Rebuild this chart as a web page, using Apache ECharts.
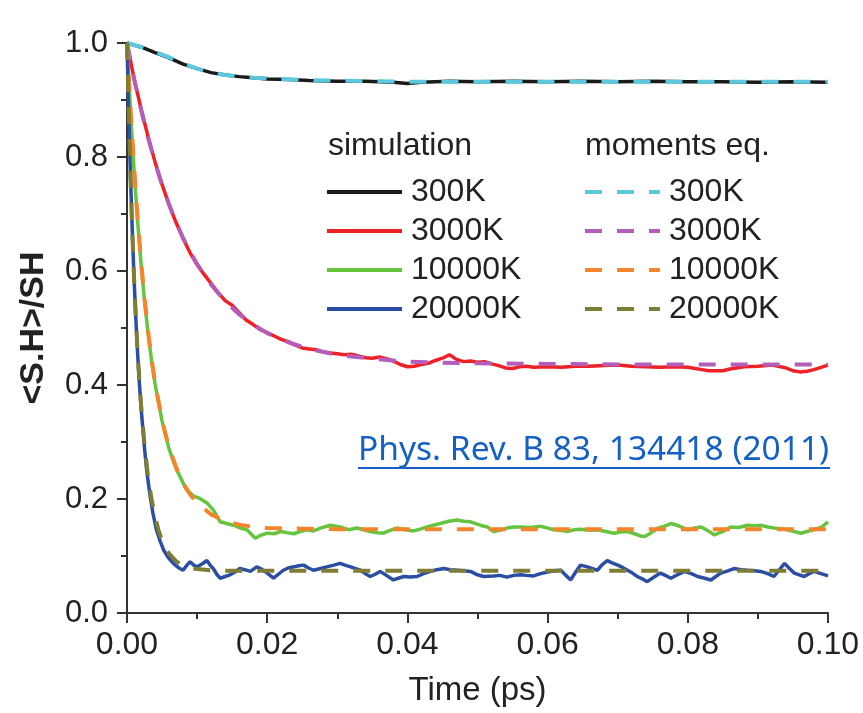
<!DOCTYPE html>
<html><head><meta charset="utf-8">
<script src="https://cdn.jsdelivr.net/npm/echarts@6/dist/echarts.min.js"></script>
<style>html,body{margin:0;padding:0;background:#fff}#c{width:863px;height:713px}</style>
</head><body><div id="c"></div>
<script>
// ---- axis ticks ----
const xTicks = [0, 0.02, 0.04, 0.06, 0.08, 0.10];
const yTicks = [0, 0.2, 0.4, 0.6, 0.8, 1.0];

// ---- simulation 300K ----
const sim300T = [0,0.002,0.004,0.006,0.008,0.01,0.012,0.014,0.016,0.018,0.02,0.023,0.026,0.03,0.034,0.038,0.04,0.042,0.046,0.05,0.055,0.06,0.065,0.07,0.075,0.08,0.085,0.09,0.095,0.1];
const sim300V = [1.0,0.993,0.983,0.974,0.963,0.955,0.948,0.944,0.941,0.939,0.937,0.936,0.934,0.933,0.933,0.931,0.929,0.931,0.933,0.932,0.933,0.932,0.933,0.932,0.933,0.932,0.932,0.931,0.932,0.931];

// ---- simulation 3000K ----
const sim3000T = [0,0.001,0.002,0.003,0.004,0.005,0.006,0.007,0.008,0.009,0.010,0.011,0.012,0.013,0.014,0.015,0.016,0.017,0.018,0.019,0.020,0.021,0.022,0.023,0.024,0.025,0.026,0.027,0.028,0.029,0.030,0.031,0.032,0.033,0.034,0.035,0.036,0.037,0.038,0.039,0.040,0.041,0.042,0.043,0.044,0.045,0.046,0.047,0.048,0.049,0.050,0.051,0.052,0.053,0.054,0.055,0.056,0.057,0.058,0.060,0.062,0.064,0.066,0.068,0.070,0.072,0.074,0.076,0.078,0.080,0.082,0.083,0.085,0.086,0.088,0.090,0.092,0.094,0.095,0.096,0.097,0.098,0.099,0.100];
const sim3000V = [1.0,0.938,0.885,0.836,0.791,0.752,0.716,0.685,0.657,0.632,0.611,0.594,0.578,0.562,0.548,0.540,0.527,0.514,0.506,0.497,0.492,0.486,0.480,0.476,0.470,0.465,0.463,0.462,0.458,0.456,0.455,0.453,0.454,0.451,0.448,0.447,0.449,0.446,0.442,0.436,0.432,0.433,0.436,0.438,0.443,0.447,0.453,0.445,0.441,0.442,0.440,0.441,0.437,0.434,0.430,0.429,0.432,0.433,0.431,0.432,0.431,0.433,0.433,0.434,0.435,0.433,0.432,0.431,0.432,0.431,0.427,0.425,0.425,0.428,0.432,0.433,0.435,0.430,0.425,0.423,0.424,0.427,0.431,0.435];

// ---- simulation 10000K ----
const sim10000T = [0,0.0005,0.001,0.0015,0.002,0.0025,0.003,0.0035,0.004,0.005,0.006,0.007,0.0085,0.0095,0.0104,0.0115,0.0123,0.0133,0.0142,0.0152,0.0162,0.0171,0.0183,0.019,0.020,0.021,0.0219,0.0228,0.0238,0.0247,0.0257,0.0266,0.0276,0.029,0.0304,0.0316,0.0328,0.0338,0.0347,0.0356,0.0366,0.0375,0.0385,0.0397,0.0409,0.0418,0.0428,0.0437,0.0447,0.0459,0.0471,0.048,0.049,0.0504,0.0514,0.0523,0.0532,0.0542,0.0552,0.0561,0.0575,0.059,0.06,0.0609,0.0618,0.0628,0.0638,0.0647,0.066,0.0671,0.0683,0.0695,0.0704,0.0714,0.0724,0.0733,0.0738,0.0747,0.0757,0.0766,0.0776,0.0787,0.08,0.081,0.0819,0.0828,0.0838,0.085,0.0861,0.0873,0.0885,0.0895,0.0904,0.0914,0.0923,0.0932,0.0942,0.0952,0.0961,0.097,0.098,0.099,0.1];
const sim10000V = [1.0,0.880,0.778,0.690,0.613,0.548,0.492,0.443,0.402,0.337,0.288,0.253,0.216,0.205,0.201,0.192,0.181,0.160,0.157,0.154,0.149,0.146,0.131,0.136,0.140,0.139,0.143,0.141,0.139,0.143,0.146,0.144,0.149,0.154,0.151,0.146,0.149,0.146,0.143,0.141,0.140,0.145,0.149,0.146,0.144,0.147,0.151,0.154,0.157,0.161,0.163,0.161,0.160,0.154,0.151,0.143,0.145,0.149,0.151,0.151,0.150,0.152,0.149,0.146,0.145,0.143,0.146,0.147,0.145,0.146,0.143,0.140,0.142,0.143,0.139,0.135,0.134,0.140,0.149,0.152,0.157,0.153,0.146,0.149,0.151,0.145,0.137,0.143,0.151,0.150,0.154,0.153,0.154,0.151,0.149,0.148,0.146,0.143,0.140,0.143,0.146,0.150,0.160];

// ---- simulation 20000K ----
const sim20000T = [0,0.00025,0.0005,0.00075,0.001,0.00125,0.0015,0.00175,0.002,0.0025,0.0028,0.0033,0.0037,0.0042,0.0047,0.0052,0.0059,0.0066,0.0073,0.008,0.0085,0.009,0.0095,0.01,0.0107,0.0114,0.0118,0.0123,0.0128,0.0133,0.014,0.0147,0.0154,0.0161,0.0168,0.0176,0.0185,0.0192,0.02,0.0209,0.0216,0.0223,0.023,0.0238,0.0245,0.0252,0.0259,0.0266,0.0276,0.0285,0.0295,0.0304,0.0311,0.0319,0.0326,0.0333,0.034,0.0347,0.0354,0.0361,0.037,0.038,0.0387,0.0395,0.0404,0.0414,0.0423,0.0433,0.0442,0.0452,0.0461,0.0471,0.048,0.049,0.05,0.0509,0.0523,0.0532,0.0542,0.0552,0.0561,0.057,0.058,0.059,0.06,0.061,0.0619,0.0626,0.0633,0.064,0.0647,0.0657,0.0664,0.0671,0.0678,0.0685,0.0692,0.07,0.0707,0.0714,0.0721,0.0728,0.0735,0.0742,0.0752,0.0761,0.0768,0.0776,0.0785,0.0795,0.0805,0.0814,0.0824,0.0833,0.084,0.0847,0.0857,0.0866,0.0876,0.0885,0.0895,0.0904,0.0914,0.0923,0.093,0.0938,0.0945,0.0952,0.0959,0.0966,0.0973,0.098,0.099,0.1];
const sim20000V = [1.0,0.873,0.765,0.671,0.589,0.519,0.458,0.406,0.361,0.289,0.251,0.205,0.175,0.146,0.127,0.111,0.097,0.087,0.080,0.075,0.083,0.090,0.084,0.081,0.086,0.092,0.085,0.078,0.068,0.061,0.064,0.067,0.072,0.078,0.076,0.073,0.081,0.077,0.070,0.061,0.068,0.075,0.079,0.081,0.083,0.084,0.079,0.075,0.078,0.081,0.084,0.087,0.084,0.081,0.078,0.075,0.069,0.064,0.068,0.073,0.066,0.058,0.061,0.064,0.063,0.064,0.069,0.073,0.076,0.078,0.076,0.075,0.074,0.073,0.067,0.064,0.065,0.066,0.063,0.066,0.067,0.066,0.065,0.069,0.072,0.074,0.075,0.066,0.058,0.072,0.084,0.081,0.078,0.075,0.085,0.092,0.088,0.084,0.080,0.075,0.070,0.064,0.060,0.055,0.063,0.070,0.066,0.061,0.067,0.073,0.069,0.064,0.061,0.058,0.064,0.070,0.074,0.078,0.076,0.075,0.074,0.073,0.069,0.064,0.075,0.087,0.078,0.070,0.067,0.064,0.069,0.073,0.069,0.065];

// ---- moments eq. ----
const mom300T = [0,0.002,0.004,0.006,0.008,0.01,0.012,0.014,0.016,0.018,0.02,0.025,0.03,0.035,0.04,0.05,0.06,0.07,0.08,0.09,0.1];
const mom300V = [1.0,0.993,0.984,0.975,0.964,0.955,0.948,0.944,0.941,0.939,0.938,0.935,0.934,0.933,0.932,0.932,0.932,0.932,0.932,0.932,0.932];
const mom3000T = [0,0.001,0.002,0.003,0.004,0.005,0.006,0.007,0.008,0.009,0.01,0.012,0.014,0.016,0.018,0.02,0.023,0.026,0.03,0.035,0.04,0.045,0.05,0.06,0.07,0.08,0.09,0.1];
const mom3000V = [1.0,0.938,0.883,0.834,0.790,0.751,0.717,0.686,0.658,0.634,0.612,0.576,0.547,0.524,0.506,0.491,0.475,0.463,0.453,0.446,0.441,0.439,0.438,0.437,0.436,0.436,0.436,0.436];
const mom10000T = [0,0.0005,0.001,0.0015,0.002,0.0025,0.003,0.0035,0.004,0.005,0.006,0.007,0.008,0.009,0.01,0.012,0.014,0.016,0.018,0.02,0.025,0.03,0.04,0.05,0.06,0.07,0.08,0.09,0.1];
const mom10000V = [1.0,0.885,0.785,0.695,0.618,0.552,0.495,0.446,0.404,0.338,0.290,0.256,0.228,0.208,0.193,0.173,0.161,0.155,0.151,0.149,0.148,0.147,0.147,0.147,0.147,0.147,0.147,0.147,0.147];
const mom20000T = [0,0.00025,0.0005,0.00075,0.001,0.00125,0.0015,0.00175,0.002,0.0025,0.003,0.0035,0.004,0.0045,0.005,0.006,0.007,0.008,0.009,0.01,0.012,0.015,0.02,0.03,0.04,0.05,0.06,0.07,0.08,0.09,0.1];
const mom20000V = [1.0,0.873,0.764,0.670,0.590,0.521,0.462,0.411,0.367,0.295,0.240,0.200,0.169,0.145,0.127,0.104,0.091,0.083,0.079,0.077,0.075,0.074,0.074,0.074,0.074,0.074,0.074,0.074,0.074,0.074,0.074];

const simLabels = ['300K','3000K','10000K','20000K'];
const simColors = ['#1a1a1a','#ee2127','#66c43f','#2b4ea3'];
const momColors = ['#5cc8de','#b45dbb','#f5842b','#7e7d33'];
const citation = 'Phys. Rev. B 83, 134418 (2011)';

const zip = (T, V) => T.map((t, i) => [t, V[i]]);
const simData = [zip(sim300T, sim300V), zip(sim3000T, sim3000V), zip(sim10000T, sim10000V), zip(sim20000T, sim20000V)];
const momData = [zip(mom300T, mom300V), zip(mom3000T, mom3000V), zip(mom10000T, mom10000V), zip(mom20000T, mom20000V)];

const FONT = '"Liberation Sans", Arial, Helvetica, sans-serif';
const series = [];
simLabels.forEach((lab, i) => {
  series.push({ name: 'sim ' + lab, type: 'line', data: simData[i], symbol: 'none', showSymbol: false,
    lineStyle: { color: simColors[i], width: 3.5 }, itemStyle: { color: simColors[i] }, z: 2 });
});
simLabels.forEach((lab, i) => {
  series.push({ name: 'mom ' + lab, type: 'line', data: momData[i], symbol: 'none', showSymbol: false,
    lineStyle: { color: momColors[i], width: 4, type: [17, 15] }, itemStyle: { color: momColors[i] }, z: 3 });
});

const legendCommon = {
  orient: 'vertical', top: 176, padding: 0, itemWidth: 75, itemHeight: 14, itemGap: 7,
  selectedMode: false,
  itemStyle: { opacity: 0 },
  lineStyle: { width: 4 },
  formatter: n => n.split(' ')[1],
  textStyle: { fontFamily: FONT, fontSize: 32, lineHeight: 32, color: '#222', padding: [0, 0, 0, 4] }
};

const chart = echarts.init(document.getElementById('c'), null, { renderer: 'canvas' });
chart.setOption({
  animation: false,
  backgroundColor: '#fff',
  grid: { left: 127, right: 35, top: 43, bottom: 100, containLabel: false },
  xAxis: {
    type: 'value', min: xTicks[0], max: xTicks[xTicks.length - 1], interval: 0.02,
    name: 'Time (ps)', nameLocation: 'middle', nameGap: 61,
    nameTextStyle: { fontFamily: FONT, fontSize: 33, color: '#222' },
    axisLine: { show: true, lineStyle: { color: '#333', width: 2 } },
    axisTick: { show: true, inside: false, length: 10, lineStyle: { color: '#333', width: 2 } },
    minorTick: { show: true, splitNumber: 2, length: 6, lineStyle: { color: '#333', width: 2 } },
    splitLine: { show: false },
    axisLabel: { fontFamily: FONT, fontSize: 32, color: '#222', margin: 16, formatter: v => v.toFixed(2) }
  },
  yAxis: {
    type: 'value', min: yTicks[0], max: yTicks[yTicks.length - 1], interval: 0.2,
    name: '<S.H>/SH', nameLocation: 'middle', nameGap: 76, nameRotate: 90,
    nameTextStyle: { fontFamily: FONT, fontSize: 34, fontWeight: 'bold', color: '#222' },
    axisLine: { show: true, lineStyle: { color: '#333', width: 2 } },
    axisTick: { show: true, inside: false, length: 10, lineStyle: { color: '#333', width: 2 } },
    minorTick: { show: true, splitNumber: 2, length: 6, lineStyle: { color: '#333', width: 2 } },
    splitLine: { show: false },
    axisLabel: { fontFamily: FONT, fontSize: 31, color: '#222', margin: 19, formatter: v => v.toFixed(1) }
  },
  legend: [
    Object.assign({}, legendCommon, { left: 325, data: simLabels.map(l => 'sim ' + l) }),
    Object.assign({}, legendCommon, { left: 583, data: simLabels.map(l => 'mom ' + l) })
  ],
  graphic: [
    { type: 'text', left: 328, top: 130, style: { text: 'simulation', font: '32px ' + FONT, fill: '#222' } },
    { type: 'text', left: 585, top: 130, style: { text: 'moments eq.', font: '32px ' + FONT, fill: '#222' } },
    { type: 'text', left: 358, top: 433, style: { text: citation, font: '33.5px "Noto Sans", sans-serif', fill: '#1560c4' } },
    { type: 'line', shape: { x1: 358, y1: 468, x2: 830, y2: 468 }, style: { stroke: '#1560c4', lineWidth: 2 } }
  ],
  series: series
});
</script>
</body></html>
